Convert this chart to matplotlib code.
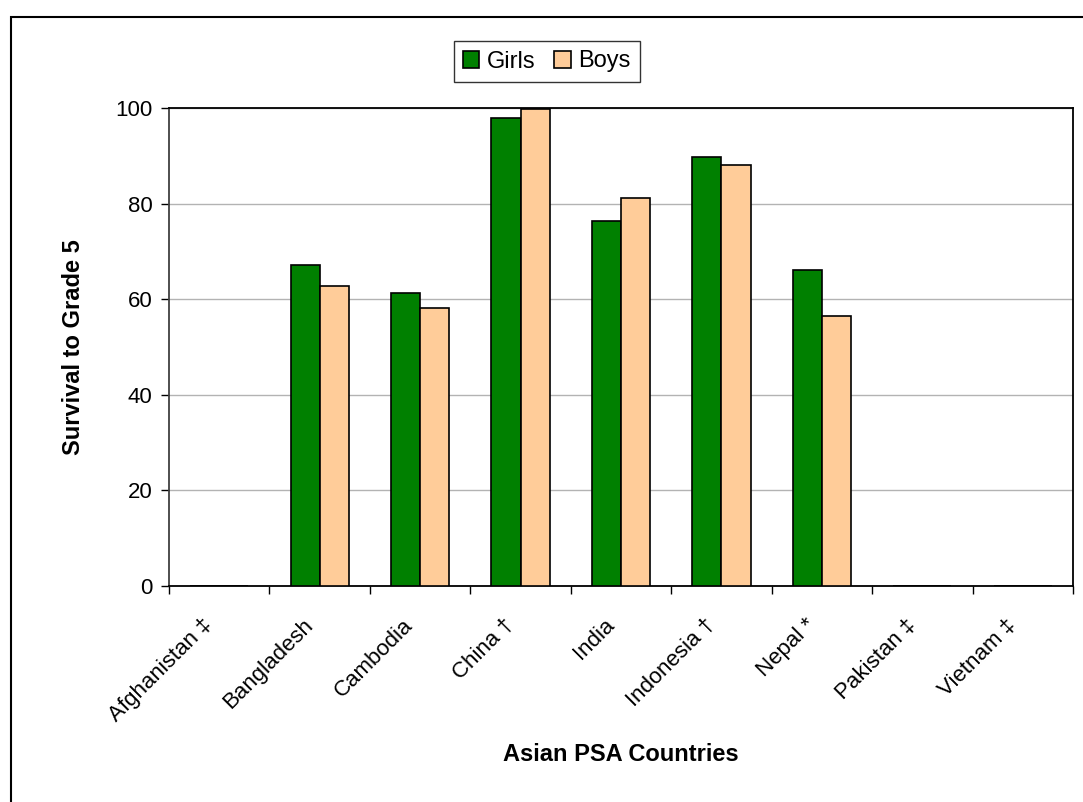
import matplotlib.pyplot as plt
from matplotlib.patches import Rectangle
from matplotlib.transforms import ScaledTranslation
import numpy as np

plt.rcParams['font.family'] = ['Liberation Sans', 'DejaVu Sans']

countries = ['Afghanistan ‡', 'Bangladesh', 'Cambodia', 'China †', 'India',
             'Indonesia †', 'Nepal *', 'Pakistan ‡', 'Vietnam ‡']
girls = [0, 67.2, 61.2, 97.9, 76.3, 89.7, 66.1, 0, 0]
boys = [0, 62.8, 58.2, 99.8, 81.2, 88.1, 56.5, 0, 0]
yticks = [0, 20, 40, 60, 80, 100]

fig = plt.figure(figsize=(10.83, 8.02), dpi=100)
ax = fig.add_axes([169 / 1083, 1 - 586 / 802, (1073 - 169) / 1083, (586 - 108) / 802])

# outer chart border (runs off the right and bottom edge)
fig.patches.append(Rectangle((11 / 1083, -0.2), 1.2, 1.2 - 17 / 802,
                             transform=fig.transFigure, fill=False,
                             edgecolor='black', linewidth=1.5))

x = np.arange(len(countries)) + 0.5
w = 0.29
ax.bar(x - w / 2, girls, w, color='#008000', edgecolor='black', linewidth=1.2,
       label='Girls', zorder=3)
ax.bar(x + w / 2, boys, w, color='#FFCC99', edgecolor='black', linewidth=1.2,
       label='Boys', zorder=3)

ax.set_xlim(0, len(countries))
ax.set_ylim(0, 100)
ax.set_yticks(yticks)
ax.tick_params(axis='y', labelsize=16, direction='out', length=6, width=1, pad=6)
ax.yaxis.grid(True, color='#b3b3b3', linewidth=1, zorder=0)

# ticks between categories, labels at category centres
ax.set_xticks(np.arange(len(countries) + 1))
ax.set_xticklabels([])
ax.tick_params(axis='x', direction='out', length=6, width=1)
ax.set_xticks(x, minor=True)
ax.set_xticklabels(countries, minor=True, rotation=45, ha='right', va='center',
                   rotation_mode='anchor', fontsize=16)
ax.tick_params(axis='x', which='minor', length=0, pad=26)
off = ScaledTranslation(-0.1, 0, fig.dpi_scale_trans)
for lbl in ax.get_xticklabels(minor=True):
    lbl.set_transform(lbl.get_transform() + off)

for s in ax.spines.values():
    s.set_linewidth(1.3)
    s.set_color('black')
ax.spines['left'].set_color('#404040')

ax.set_ylabel('Survival to Grade 5', fontsize=17, fontweight='bold', labelpad=22)
ax.set_xlabel('Asian PSA Countries', fontsize=17, fontweight='bold', labelpad=12)

leg = ax.legend(loc='center', bbox_to_anchor=(546.5 / 1083, 1 - 61.5 / 802),
                bbox_transform=fig.transFigure, ncol=2, fontsize=17,
                frameon=True, fancybox=False, handlelength=0.7, handleheight=0.7,
                handletextpad=0.3, columnspacing=0.8, borderpad=0.4)
leg.get_frame().set_edgecolor('black')
leg.get_frame().set_linewidth(1)

fig.savefig('out.png', dpi=100)
